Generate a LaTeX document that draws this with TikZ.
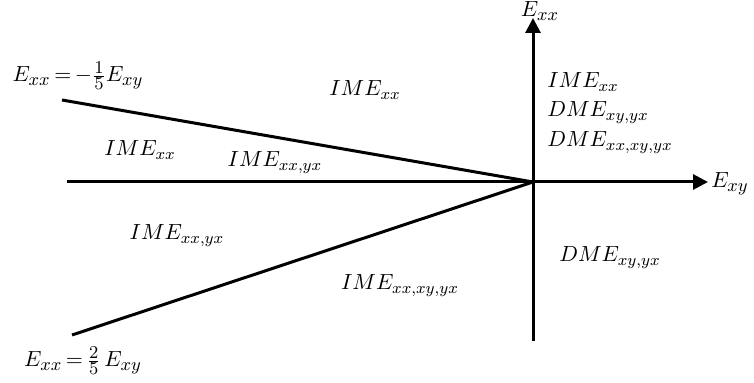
\documentclass[tikz,border=0pt]{standalone}
\usepackage{amsmath}
\usetikzlibrary{arrows.meta}
\DeclareMathSizes{10.5}{10.5}{8.4}{6.5}
\DeclareMathSizes{11}{11}{8.6}{6.8}
\begin{document}
\begin{tikzpicture}[x=0.5pt,y=-0.5pt,
  axis/.style={line width=1.5pt,-{Triangle[length=7.5pt,width=7.5pt]}},
  bound/.style={line width=1.5pt},
  lbl/.style={inner sep=0pt,anchor=base,font=\fontsize{10.5}{12}\selectfont},
  elbl/.style={inner sep=0pt,anchor=base,font=\fontsize{11}{13}\selectfont}]
\useasboundingbox (0,0) rectangle (754,383);
% coordinates
\coordinate (O) at (533,182);
\coordinate (xl) at (67,182);
\coordinate (xr) at (708,182);
\coordinate (yb) at (533,341);
\coordinate (yt) at (533,18);
\coordinate (ul) at (62,100);
\coordinate (ll) at (72,335);
% axes and boundaries
\draw[axis] (xl) -- (xr);
\draw[axis] (yb) -- (yt);
\draw[bound] (ul) -- (O);
\draw[bound] (ll) -- (O);
% axis labels
\node[elbl] (ex) at (540,17) {$E_{xx}$};
\node[elbl] (ey) at (730,188) {$E_{xy}$};
% boundary labels
\node[elbl] (b1) at (78,82) {$E_{xx}\mskip-2mu=\mskip-2mu-\tfrac{1}{5}E_{xy}$};
\node[elbl] (b2) at (83,367) {$E_{xx}\mskip-2mu=\mskip-2mu\tfrac{2}{5}\,E_{xy}$};
% region labels
\node[lbl] (r1) at (365,96) {$IME_{xx}$};
\node[lbl] (r2) at (140,156) {$IME_{xx}$};
\node[lbl] (r3) at (275,167) {$IME_{xx,yx}$};
\node[lbl] (r4) at (177,240) {$IME_{xx,yx}$};
\node[lbl] (r5) at (400,290) {$IME_{xx,xy,yx}$};
\node[lbl] (r6) at (610,262) {$DME_{xy,yx}$};
\node[lbl,anchor=base west] (q1) at (547,88) {$IME_{xx}$};
\node[lbl,anchor=base west] (q2) at (547,117) {$DME_{xy,yx}$};
\node[lbl,anchor=base west] (q3) at (547,147) {$DME_{xx,xy,yx}$};
\end{tikzpicture}
\end{document}
